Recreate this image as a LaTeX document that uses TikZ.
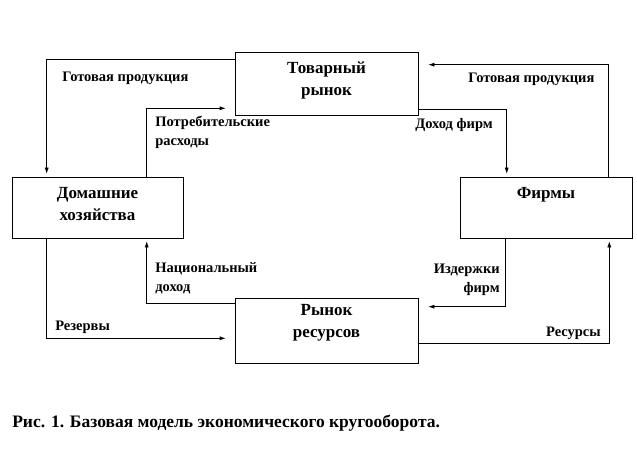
\documentclass[tikz,border=0pt]{standalone}
\usepackage{fontspec}
\setmainfont{Liberation Serif}
\usetikzlibrary{arrows.meta,positioning}

\begin{document}
\begin{tikzpicture}[x=1pt, y=-1pt, >={Latex[length=6pt,width=4pt]},
  line width=0.6pt,
  box/.style={draw, minimum width=183pt, minimum height=63pt, inner sep=0pt,
              align=center, font=\fontsize{17}{22}\selectfont\bfseries},
  lbl/.style={inner sep=0pt, align=left, font=\fontsize{14.5}{19}\selectfont\bfseries}]
  \useasboundingbox (0,0) rectangle (637,465);
  % Markets (middle column)
  \node[box] (tov) at (326.5, 83.5) {};
  \node[box, minimum height=65pt] (res) at (326.5, 330.5) {};
  % Sectors (left and right)
  \node[box, minimum width=171pt, minimum height=61pt] (dom) at (97.5, 207.5) {};
  \node[box, minimum width=172pt, minimum height=61pt] (firm) at (546, 207.5) {};
  % Box texts
  \node[box, draw=none, minimum width=0pt, minimum height=0pt] (tovt) at (326.5, 80) {Товарный\\рынок};
  \node[box, draw=none, minimum width=0pt, minimum height=0pt] (domt) at (97.5, 204) {Домашние\\хозяйства};
  \node[box, draw=none, minimum width=0pt, minimum height=0pt] (firmt) at (546, 195) {Фирмы};
  \node[box, draw=none, minimum width=0pt, minimum height=0pt] (rest) at (326.5, 323) {Рынок\\ресурсов};
  % Upper loop
  \draw[->, shorten >=3pt] ([yshift=-8pt]tov.north west) -| ([xshift=35pt]dom.north west);
  \draw[->, shorten >=9pt] ([xshift=135pt]dom.north west) |- ([yshift=7pt]tov.south west);
  \draw[->, shorten >=10pt] ([xshift=-24pt]firm.north east) |- ([yshift=-13pt]tov.north east);
  \draw[->, shorten >=3pt] ([yshift=6pt]tov.south east) -| ([xshift=47pt]firm.north west);
  % Lower loop
  \draw[->, shorten >=10pt] ([xshift=46pt]firm.south west) |- ([yshift=-9pt]res.north east);
  \draw[->, shorten >=3pt] ([yshift=20pt]res.south east) -| ([xshift=-23pt]firm.south east);
  \draw[->, shorten >=3pt] ([yshift=-6pt]res.north west) -| ([xshift=135pt]dom.south west);
  \draw[->, shorten >=9pt] ([xshift=35pt]dom.south west) |- ([yshift=25pt]res.south west);
  % Flow labels
  \node[lbl, anchor=west] (gp1) at (62, 78) {Готовая продукция};
  \node[lbl, anchor=west] (gp2) at (468, 79) {Готовая продукция};
  \node[lbl, anchor=north west] (potr) at (155, 116) {Потребительские\\расходы};
  \node[lbl, anchor=west] (dohf) at (415, 125) {Доход фирм};
  \node[lbl, anchor=north west] (nac) at (155, 262) {Национальный\\доход};
  \node[lbl, anchor=north east, align=right] (izd) at (500, 264) {Издержки\\фирм};
  \node[lbl, anchor=west] (rez) at (55, 327) {Резервы};
  \node[lbl, anchor=east] (resu) at (601, 333) {Ресурсы};
  % Caption
  \node[anchor=west, inner sep=0pt, font=\fontsize{17.5}{20}\selectfont\bfseries] (cap)
    at (12, 423) {Рис. 1. Базовая модель экономического кругооборота.};
\end{tikzpicture}
\end{document}
